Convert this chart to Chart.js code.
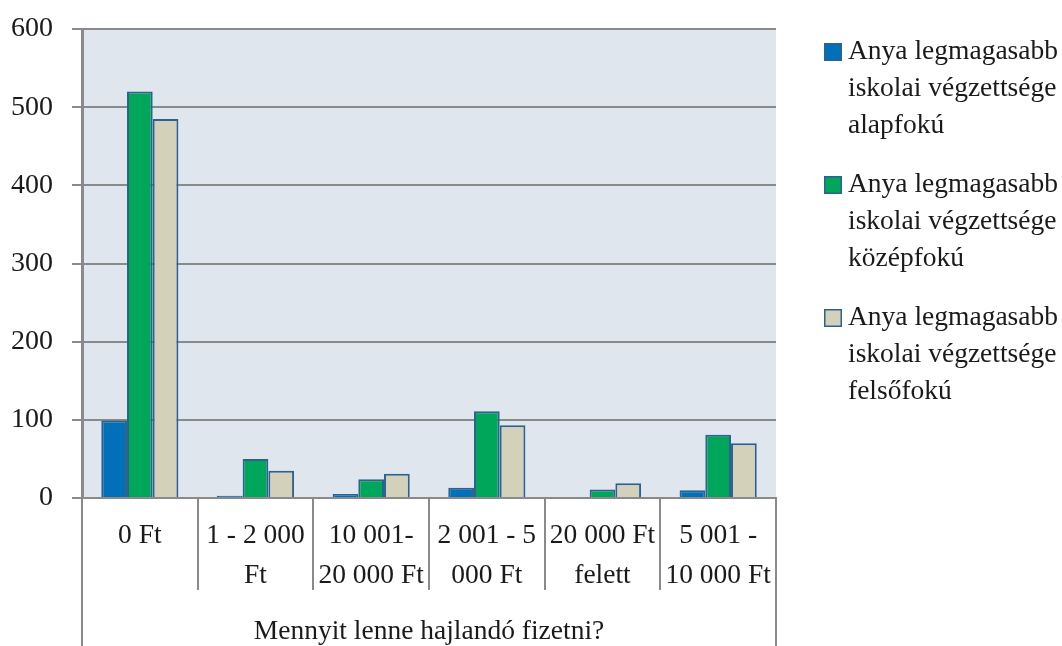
<!DOCTYPE html>
<html>
<head>
<meta charset="utf-8">
<script src="https://cdn.jsdelivr.net/npm/chart.js@4/dist/chart.umd.min.js"></script>
<style>
  html, body { margin: 0; padding: 0; background: #ffffff; }
  canvas { display: block; }
</style>
</head>
<body>
<canvas id="chart" width="1062" height="646"></canvas>
<script>
// Payment categories (multi-line tick labels)
const categories = [
  ["0 Ft"],
  ["1 - 2 000", "Ft"],
  ["10 001-", "20 000 Ft"],
  ["2 001 - 5", "000 Ft"],
  ["20 000 Ft", "felett"],
  ["5 001 -", "10 000 Ft"]
];

// Series: mother's highest level of education
const alapfoku  = [99, 3, 5, 13, 0, 10];
const kozepfoku = [520, 50, 24, 111, 11, 81];
const felsofoku = [485, 35, 31, 93, 19, 70];

const seriesLabels = [
  ["Anya legmagasabb", "iskolai végzettsége", "alapfokú"],
  ["Anya legmagasabb", "iskolai végzettsége", "középfokú"],
  ["Anya legmagasabb", "iskolai végzettsége", "felsőfokú"]
];

const yTicks = [0, 100, 200, 300, 400, 500, 600];
const axisTitle = "Mennyit lenne hajlandó fizetni?";

const FONT = "'Liberation Serif', 'Times New Roman', serif";
const AXIS_GRAY = "#8a8a8a";
const BAR_EDGE = "#2d6190";

// Plot background
const plotBackground = {
  id: "plotBackground",
  beforeDraw(chart) {
    const { ctx, chartArea: a } = chart;
    ctx.save();
    ctx.fillStyle = "#dfe6ee";
    ctx.fillRect(a.left, a.top, a.right - a.left, a.bottom - a.top);
    ctx.restore();
  }
};

// Outer frame lines below the plot, down to the axis title row
const outerFrame = {
  id: "outerFrame",
  afterDraw(chart) {
    const { ctx, chartArea: a } = chart;
    const bottom = chart.height;
    ctx.save();
    ctx.strokeStyle = AXIS_GRAY;
    ctx.lineWidth = 2;
    ctx.beginPath();
    ctx.moveTo(a.left, a.bottom);
    ctx.lineTo(a.left, bottom);
    ctx.moveTo(a.right, a.bottom);
    ctx.lineTo(a.right, bottom);
    ctx.stroke();
    ctx.restore();
  }
};

// Legend with wrapped labels on the right
const sideLegend = {
  id: "sideLegend",
  afterDraw(chart) {
    const { ctx } = chart;
    const boxX = 824, boxSize = 18, textX = 848;
    const firstY = 52, lineH = 37, itemStep = 133;
    ctx.save();
    ctx.font = "27.5px " + FONT;
    ctx.textBaseline = "middle";
    ctx.textAlign = "left";
    chart.data.datasets.forEach((ds, i) => {
      const y0 = firstY + i * itemStep;
      ctx.fillStyle = ds.backgroundColor;
      ctx.fillRect(boxX, y0 - boxSize / 2, boxSize, boxSize);
      ctx.strokeStyle = BAR_EDGE;
      ctx.lineWidth = 1.5;
      ctx.strokeRect(boxX + 0.75, y0 - boxSize / 2 + 0.75, boxSize - 1.5, boxSize - 1.5);
      ctx.fillStyle = "#1a1a1a";
      ds.label.forEach((line, j) => ctx.fillText(line, textX, y0 + j * lineH));
    });
    ctx.restore();
  }
};

const barStyle = { borderColor: BAR_EDGE, borderWidth: 2, borderSkipped: "bottom" };

new Chart(document.getElementById("chart"), {
  type: "bar",
  data: {
    labels: categories,
    datasets: [
      { label: seriesLabels[0], data: alapfoku,  backgroundColor: "#0070b8", ...barStyle },
      { label: seriesLabels[1], data: kozepfoku, backgroundColor: "#00a65a", ...barStyle },
      { label: seriesLabels[2], data: felsofoku, backgroundColor: "#d4d1ba", ...barStyle }
    ]
  },
  options: {
    responsive: false,
    animation: false,
    events: [],
    layout: { padding: { left: 0, right: 286, top: 29, bottom: 0 } },
    datasets: { bar: { categoryPercentage: 0.667, barPercentage: 1.0 } },
    plugins: { legend: { display: false }, tooltip: { enabled: false } },
    scales: {
      x: {
        grid: {
          offset: true,
          drawOnChartArea: false,
          drawTicks: true,
          tickLength: 92,
          color: AXIS_GRAY,
          lineWidth: 2
        },
        border: { display: true, color: AXIS_GRAY, width: 2 },
        ticks: {
          color: "#1a1a1a",
          font: { family: FONT, size: 27.5, lineHeight: 1.45 },
          padding: -74,
          maxRotation: 0,
          autoSkip: false
        },
        title: {
          display: true,
          text: axisTitle,
          color: "#1a1a1a",
          font: { family: FONT, size: 27.5, lineHeight: 1 },
          padding: { top: 0, bottom: 0 }
        },
        afterFit(scale) { scale.height = 148; }
      },
      y: {
        min: 0,
        max: 600,
        afterBuildTicks(scale) { scale.ticks = yTicks.map(v => ({ value: v })); },
        grid: {
          color: AXIS_GRAY,
          lineWidth: 2,
          drawTicks: true,
          tickLength: 10
        },
        border: { display: true, color: AXIS_GRAY, width: 3 },
        ticks: {
          color: "#1a1a1a",
          font: { family: FONT, size: 28 },
          padding: 19
        },
        afterFit(scale) {
          scale.width = 82;
          scale.paddingTop = 0;
          scale.paddingBottom = 0;
        }
      }
    }
  },
  plugins: [plotBackground, outerFrame, sideLegend]
});
</script>
</body>
</html>
